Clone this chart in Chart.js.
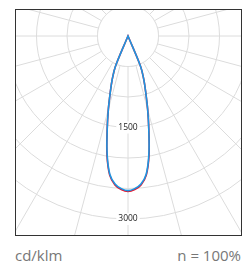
<!DOCTYPE html>
<html>
<head>
<meta charset="utf-8">
<script src="https://cdn.jsdelivr.net/npm/chart.js@4.4.0/dist/chart.umd.min.js"></script>
<style>
  html, body { margin: 0; padding: 0; background: #fff; }
  body { width: 252px; height: 263px; position: relative; overflow: hidden; font-family: "Open Sans", sans-serif; }
  #box { position: absolute; left: 15px; top: 9px; width: 225px; height: 225px; border: 1px solid #333; overflow: hidden; }
  #polar { position: absolute; left: -132px; top: -218px; }
  .foot { position: absolute; top: 245px; font-size: 15px; line-height: 20px; color: #777; }
</style>
</head>
<body>
<div id="box"><canvas id="polar" width="488" height="488"></canvas></div>
<div class="foot" style="left:15px">cd/klm</div>
<div class="foot" style="right:11px">n = 100%</div>
<script>
// gamma angles (deg from nadir) and intensities in cd/klm
const gammaSteps = [0, 2.5, 5, 7.5, 10, 12.5, 15, 17.5, 20, 22.5, 25];
const redC0C180 = [2550, 2520, 2450, 2300, 1985, 1580, 1245, 965, 755, 540, 0];
const blueC90C270 = [2535, 2505, 2435, 2285, 1970, 1575, 1245, 965, 755, 540, 0];
const tickLabels = [1500, 3000];
const angleStep = 2.5;

const angles = [];
for (let a = 0; a < 360; a += angleStep) angles.push(a);

// mirror a half profile onto both sides of the nadir
function fullCircle(profile) {
  return angles.map(a => {
    const g = a <= 180 ? a : 360 - a;
    const i = gammaSteps.indexOf(g);
    return i >= 0 ? profile[i] : 0;
  });
}

const gridGrey = '#dcdcdc';

const tickLabelPlugin = {
  id: 'tickLabels',
  afterDatasetsDraw(chart) {
    const r = chart.scales.r;
    const ctx = chart.ctx;
    ctx.save();
    ctx.font = '8.5px "Open Sans"';
    ctx.textAlign = 'center';
    ctx.textBaseline = 'middle';
    tickLabels.forEach(v => {
      const p = r.getPointPositionForValue(0, v);
      const txt = String(v);
      const w = ctx.measureText(txt).width;
      ctx.fillStyle = '#fff';
      ctx.fillRect(p.x - w / 2 - 2, p.y - 6, w + 4, 12);
      ctx.fillStyle = '#222';
      ctx.fillText(txt, p.x, p.y);
    });
    ctx.restore();
  }
};

new Chart(document.getElementById('polar'), {
  type: 'radar',
  data: {
    labels: angles.map(a => a + '°'),
    datasets: [
      {
        label: 'C90-C270',
        data: fullCircle(blueC90C270),
        borderColor: '#1c96e3',
        borderWidth: 1.6,
        fill: false,
        tension: 0.35,
        order: 1
      },
      {
        label: 'C0-C180',
        data: fullCircle(redC0C180),
        borderColor: '#e3142c',
        borderWidth: 1.6,
        fill: false,
        tension: 0.35,
        order: 2
      },
      {
        label: 'hub',
        data: angles.map(() => 500),
        borderColor: gridGrey,
        borderWidth: 1,
        backgroundColor: '#fff',
        fill: 'origin',
        order: 3
      }
    ]
  },
  options: {
    responsive: false,
    animation: false,
    layout: { padding: 0 },
    elements: { point: { radius: 0, hoverRadius: 0 } },
    plugins: { legend: { display: false }, tooltip: { enabled: false } },
    scales: {
      r: {
        min: 0,
        max: 4000,
        startAngle: 180,
        ticks: { display: false, stepSize: 500 },
        pointLabels: { display: false },
        grid: {
          circular: true,
          color: c => (c.tick && c.tick.value > 3000 ? 'rgba(0,0,0,0)' : gridGrey),
          lineWidth: 1
        },
        angleLines: {
          color: c => (c.index % 6 === 0 ? gridGrey : 'rgba(0,0,0,0)'),
          lineWidth: 1
        }
      }
    }
  },
  plugins: [tickLabelPlugin]
});
</script>
</body>
</html>
